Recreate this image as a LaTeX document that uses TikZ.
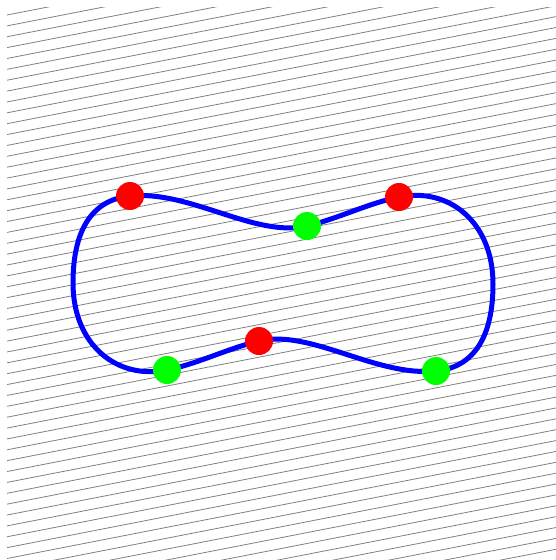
\documentclass[tikz,border=0pt]{standalone}
\begin{document}
\begin{tikzpicture}[x=1pt,y=-1pt,
  hatch/.style={draw=gray, line width=0.8pt},
  curve/.style={draw=blue, line width=5pt},
  reddot/.style={circle, fill=red, inner sep=0pt, minimum size=28pt},
  greendot/.style={circle, fill=green, inner sep=0pt, minimum size=28pt}]
\useasboundingbox (0,0) rectangle (556,560);
\begin{scope}
  \clip (7,7.3) rectangle (560,560);
  \foreach \k in {0,...,62} {
    \draw[hatch] (7,15+10.87*\k) -- ++(620,-120.9);
  }
\end{scope}
\coordinate (r1) at (130,196);
\coordinate (g1) at (307,226);
\coordinate (r2) at (399,197);
\coordinate (e)  at (493,284);
\coordinate (g2) at (436,371);
\coordinate (r3) at (259,341);
\coordinate (g3) at (167,370);
\coordinate (w)  at (73,283);
\draw[curve] (r1) .. controls (190,190) and (255,238) .. (g1)
  .. controls (337,219) and (369,203) .. (r2)
  .. controls (449,187) and (493,222) .. (e)
  .. controls (493,334) and (476,367) .. (g2)
  .. controls (376,377) and (311,329) .. (r3)
  .. controls (229,348) and (197,364) .. (g3)
  .. controls (117,380) and (73,345) .. (w)
  .. controls (73,233) and (90,200) .. cycle;
\node[reddot] (R1) at (r1) {};
\node[greendot] (G1) at (g1) {};
\node[reddot] (R2) at (r2) {};
\node[greendot] (G2) at (g2) {};
\node[reddot] (R3) at (r3) {};
\node[greendot] (G3) at (g3) {};
\end{tikzpicture}
\end{document}
